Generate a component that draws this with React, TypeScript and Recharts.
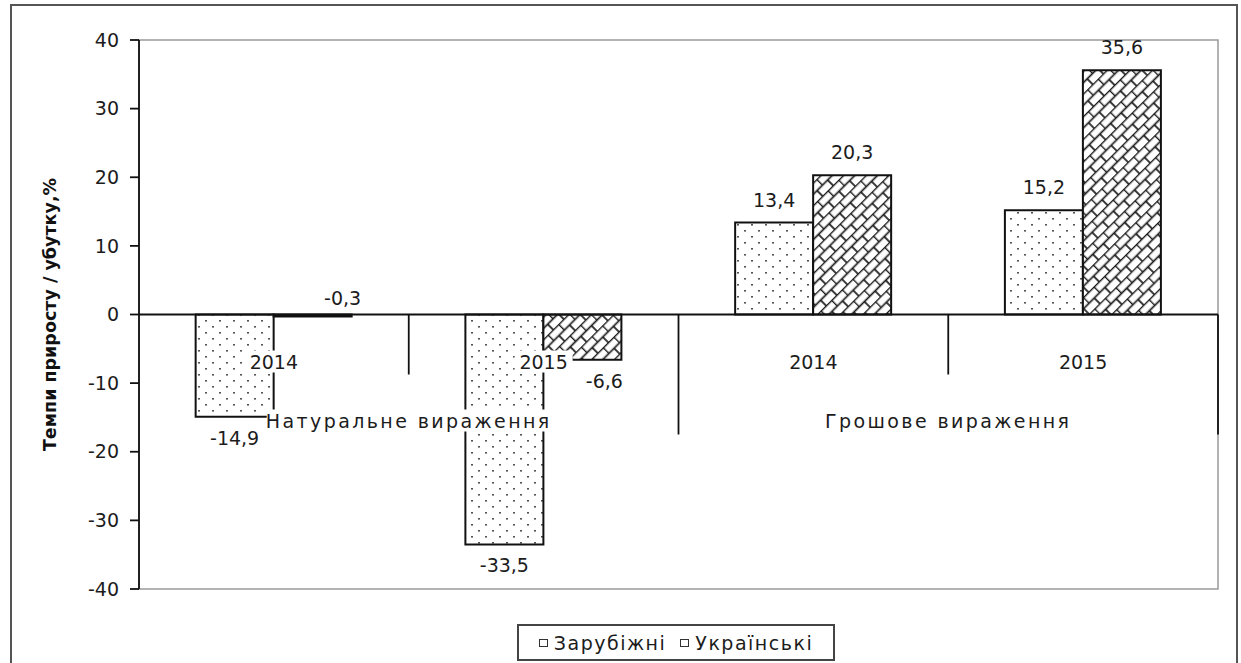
import React from 'react';
import { BarChart, Bar, XAxis, YAxis, ReferenceLine, ReferenceArea, LabelList, Legend } from 'recharts';

const categories = ['2014', '2015', '2014', '2015'];
const groups = ['Натуральне вираження', 'Грошове вираження'];
const foreign = [-14.9, -33.5, 13.4, 15.2];
const ukrainian = [-0.3, -6.6, 20.3, 35.6];
const yTicks = [-40, -30, -20, -10, 0, 10, 20, 30, 40];
const seriesNames = ['Зарубіжні', 'Українські'];

const data = categories.map((c, i) => ({
  key: `${c}-${i}`,
  year: c,
  foreign: foreign[i],
  ukr: ukrainian[i],
}));

const FONT = '"DejaVu Sans", sans-serif';
const TXT = '#1c1c1c';
const FS = 19;

const fmt = (v: number) => String(v).replace('.', ',');

// data labels: above positive bars, under negative ones
const makeLabel = (negShift: number) => (p: any) => {
  const x = Number(p.x), y = Number(p.y), w = Number(p.width), h = Number(p.height);
  const v = Number(p.value);
  const top = Math.min(y, y + h);
  const bottom = Math.max(y, y + h);
  const cx = x + w / 2;
  let tx = cx;
  let ty: number;
  if (v >= 0) ty = top - 23;
  else if (bottom - top < 10) { ty = top - 17; tx = cx + negShift + 8; }
  else { ty = bottom + 21; tx = cx + negShift; }
  return (
    <text x={tx} y={ty} textAnchor="middle" dominantBaseline="central"
      fontFamily={FONT} fontSize={FS} fill={TXT}>{fmt(v)}</text>
  );
};

// year labels, group labels and dividers hung under the zero line
const CategoryRow = (p: any) => {
  const vb = p.viewBox || {};
  const x0 = Number(vb.x), y0 = Number(vb.y), w = Number(vb.width);
  const bw = w / categories.length;
  return (
    <g>
      {categories.map((c, i) => {
        const x = x0 + (i + 1) * bw;
        const len = i % 2 === 1 ? 120 : 60;
        return <line key={'d' + i} x1={x} x2={x} y1={y0} y2={y0 + len} stroke="#111" strokeWidth={1.8} />;
      })}
      {categories.map((c, i) => {
        const cx = x0 + (i + 0.5) * bw;
        return (
          <g key={'y' + i}>
            <rect x={cx - 29} y={y0 + 36} width={58} height={22} fill="#fff" />
            <text x={cx} y={y0 + 47} textAnchor="middle" dominantBaseline="central"
              fontFamily={FONT} fontSize={FS} fill={TXT}>{c}</text>
          </g>
        );
      })}
      {groups.map((g, i) => {
        const cx = x0 + (2 * i + 1) * bw;
        const tw = g.length * 14.2;
        return (
          <g key={'g' + i}>
            <rect x={cx - tw / 2} y={y0 + 95} width={tw} height={22} fill="#fff" />
            <text x={cx} y={y0 + 106} textAnchor="middle" dominantBaseline="central"
              fontFamily={FONT} fontSize={FS} letterSpacing={2.4} fill={TXT}>{g}</text>
          </g>
        );
      })}
    </g>
  );
};

const YTitle = (p: any) => {
  const vb = p.viewBox || {};
  const cy = Number(vb.y) + Number(vb.height) / 2;
  return (
    <text x={50} y={cy} transform={`rotate(-90 50 ${cy})`} textAnchor="middle" dominantBaseline="central"
      fontFamily={FONT} fontSize={17.5} fontWeight="bold" fill="#111">
      Темпи приросту / убутку,%
    </text>
  );
};

const LegendBox = () => (
  <div style={{
    boxSizing: 'border-box', width: 318, height: 37, border: '2px solid #444', background: '#fff',
    display: 'flex', alignItems: 'center', justifyContent: 'center', gap: 14,
    fontFamily: FONT, fontSize: FS, color: TXT, letterSpacing: 1.5,
  }}>
    {seriesNames.map((n) => (
      <span key={n} style={{ display: 'flex', alignItems: 'center' }}>
        <span style={{ display: 'inline-block', width: 7, height: 6, border: '1.5px solid #333', marginRight: 6 }} />
        {n}
      </span>
    ))}
  </div>
);

export default function App() {
  return (
    <div style={{ position: 'absolute', left: 0, top: 0, width: 1241, height: 663, overflow: 'hidden', background: '#fff' }}>
      <div style={{ position: 'absolute', left: 10, top: 4, width: 1228, height: 720, border: '2px solid #555', boxSizing: 'border-box' }} />
      <BarChart width={1241} height={663} data={data}
        margin={{ top: 40, right: 23, bottom: 74, left: 0 }}
        barCategoryGap="21%" barGap={0}>
        <defs>
          <pattern id="dots" patternUnits="userSpaceOnUse" width={14} height={12}>
            <rect width={14} height={12} fill="#fff" />
            <rect x={2} y={2} width={2} height={1.6} fill="#555" />
            <rect x={9} y={8} width={2} height={1.6} fill="#555" />
          </pattern>
          <pattern id="brick" patternUnits="userSpaceOnUse" width={15} height={16} patternTransform="rotate(-45)">
            <rect width={15} height={16} fill="#fff" />
            <line x1={0} x2={15} y1={0.5} y2={0.5} stroke="#1a1a1a" strokeWidth={1.7} />
            <line x1={0} x2={15} y1={8.5} y2={8.5} stroke="#1a1a1a" strokeWidth={1.7} />
            <line x1={0.5} x2={0.5} y1={0.5} y2={8.5} stroke="#1a1a1a" strokeWidth={1.7} />
            <line x1={8} x2={8} y1={8.5} y2={16.5} stroke="#1a1a1a" strokeWidth={1.7} />
          </pattern>
        </defs>
        <ReferenceArea y1={-40} y2={40} fill="none" stroke="#9a9a9a" strokeWidth={1.5} />
        <XAxis dataKey="key" hide />
        <YAxis type="number" domain={[-40, 40]} ticks={yTicks} interval={0} width={139}
          tick={{ fontSize: FS, fill: TXT, fontFamily: FONT }} tickSize={9} tickMargin={11}
          axisLine={{ stroke: '#111', strokeWidth: 1.8 }} tickLine={{ stroke: '#111', strokeWidth: 1.8 }}
          label={(p: any) => <YTitle {...p} />} />
        <Bar dataKey="foreign" name={seriesNames[0]} fill="url(#dots)" stroke="#111" strokeWidth={2} isAnimationActive={false}>
          <LabelList dataKey="foreign" content={makeLabel(0)} />
        </Bar>
        <Bar dataKey="ukr" name={seriesNames[1]} fill="url(#brick)" stroke="#111" strokeWidth={2} isAnimationActive={false}>
          <LabelList dataKey="ukr" content={makeLabel(22)} />
        </Bar>
        <ReferenceLine y={0} stroke="#111" strokeWidth={1.8} label={(p: any) => <CategoryRow {...p} />} />
        <Legend layout="horizontal" verticalAlign="middle" align="center"
          wrapperStyle={{ left: 517, top: 624, width: 318, height: 37 }} content={() => <LegendBox />} />
      </BarChart>
    </div>
  );
}
